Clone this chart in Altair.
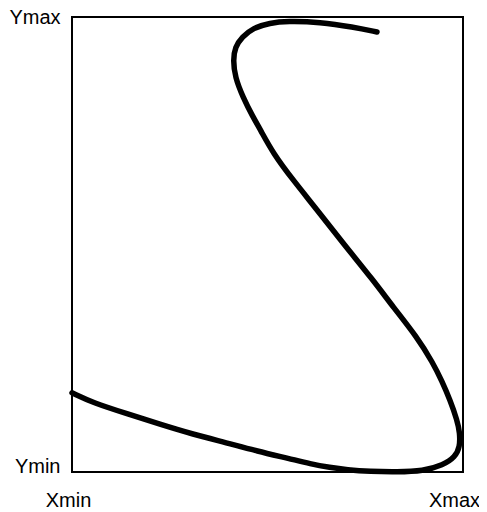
import altair as alt
import pandas as pd

# curve points (normalised 0..1), in drawing order
xs = [0.000, 0.054, 0.141, 0.225, 0.309, 0.396, 0.473, 0.558, 0.609, 0.660,
      0.703, 0.762, 0.831, 0.898, 0.949, 0.980, 0.992, 0.992, 0.985, 0.967,
      0.946, 0.923, 0.882, 0.821, 0.770, 0.693, 0.627, 0.565, 0.514, 0.482,
      0.463, 0.437, 0.417, 0.412, 0.417, 0.435, 0.463, 0.506, 0.550, 0.634,
      0.719, 0.780]
ys = [0.174, 0.152, 0.128, 0.105, 0.083, 0.064, 0.046, 0.029, 0.018, 0.010,
      0.005, 0.001, 0.000, 0.002, 0.015, 0.033, 0.055, 0.086, 0.114, 0.158,
      0.200, 0.240, 0.297, 0.363, 0.422, 0.503, 0.576, 0.642, 0.701, 0.752,
      0.780, 0.824, 0.868, 0.905, 0.934, 0.956, 0.976, 0.987, 0.991, 0.989,
      0.978, 0.967]

df = pd.DataFrame({"x": xs, "y": ys, "i": list(range(len(xs)))})

x_labels = ["Xmin", "Xmax"]
y_labels = ["Ymin", "Ymax"]

chart = alt.Chart(df).mark_line(
    color="black", strokeWidth=5.5, strokeCap="round", strokeJoin="round",
    interpolate="basis"
).encode(
    x=alt.X("x:Q", scale=alt.Scale(domain=[0, 1], nice=False),
            axis=alt.Axis(values=[0, 1], title=None, grid=False, ticks=False, domain=False,
                          labelExpr=f"datum.value == 0 ? '{x_labels[0]}' : '{x_labels[1]}'",
                          labelFont="Liberation Sans", labelFontSize=20, labelColor="black",
                          labelPadding=18, labelBaseline="top", labelFlush=False,
                          labelOffset={"condition": {"test": "datum.value == 0", "value": -4}, "value": -9})),
    y=alt.Y("y:Q", scale=alt.Scale(domain=[0, 1], nice=False),
            axis=alt.Axis(values=[0, 1], title=None, grid=False, ticks=False, domain=False,
                          labelExpr=f"datum.value == 0 ? '{y_labels[0]}' : '{y_labels[1]}'",
                          labelFont="Liberation Sans", labelFontSize=20, labelColor="black",
                          labelPadding=12, labelFlush=False,
                          labelBaseline={"condition": {"test": "datum.value == 0", "value": "alphabetic"}, "value": "middle"})),
    order="i:Q",
).properties(
    width=391, height=455,
    autosize="none",
    padding={"left": 64, "top": 9, "right": 16, "bottom": 40},
    background="white",
).configure_view(
    stroke="black", strokeWidth=2, fill="white"
)

chart.save("out.html", embed_options={"renderer": "svg", "actions": False})
